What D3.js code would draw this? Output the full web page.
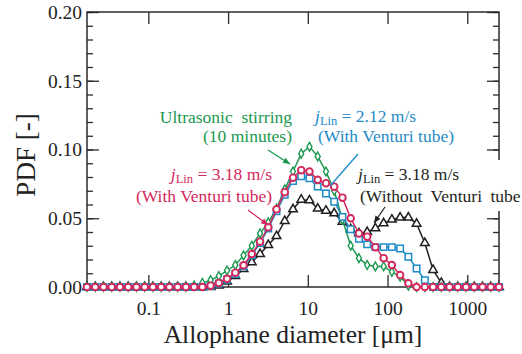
<!DOCTYPE html>
<html>
<head>
<meta charset="utf-8">
<script src="https://d3js.org/d3.v7.min.js"></script>
<style>
	html, body { margin: 0; padding: 0; background: #fff; }
	svg { display: block; }
	text { font-family: "Liberation Serif", "Times New Roman", serif; }
</style>
</head>
<body>
<svg id="chart" width="522" height="354"></svg>
<script>
// particle size bins [um], 51 channels
var sizes = [0.017, 0.02157, 0.02736, 0.03472, 0.04405, 0.05589, 0.0709, 0.08995, 0.1141, 0.1448,
	0.1836, 0.233, 0.2956, 0.375, 0.4758, 0.6036, 0.7657, 0.9714, 1.232, 1.563,
	1.983, 2.516, 3.192, 4.05, 5.138, 6.519, 8.27, 10.49, 13.31, 16.89,
	21.43, 27.19, 34.49, 43.75, 55.51, 70.42, 89.35, 113.3, 143.8, 182.4,
	231.4, 293.6, 372.5, 472.6, 599.6, 760.7, 965, 1224, 1553, 1971, 2500];

// PDF values, one per bin
var ultrasonic = [0, 0, 0, 0, 0, 0, 0, 0, 0, 0,
	0, 0, 0, 0.001, 0.003, 0.005, 0.008, 0.012, 0.016, 0.023,
	0.030, 0.039, 0.047, 0.057, 0.071, 0.084, 0.097, 0.102, 0.095, 0.084,
	0.070, 0.049, 0.030, 0.021, 0.016, 0.015, 0.015, 0.011, 0.0075, 0.001,
	0, 0, 0, 0, 0, 0, 0, 0, 0, 0, 0];
var venturi212 = [0, 0, 0, 0, 0, 0, 0, 0, 0, 0,
	0, 0, 0, 0, 0, 0.0008, 0.0025, 0.0055, 0.0095, 0.015,
	0.023, 0.032, 0.0425, 0.055, 0.067, 0.077, 0.0805, 0.079, 0.073, 0.068,
	0.062, 0.051, 0.042, 0.035, 0.031, 0.029, 0.029, 0.029, 0.028, 0.022,
	0.0135, 0.005, 0, 0, 0, 0, 0, 0, 0, 0, 0];
var venturi318 = [0, 0, 0, 0, 0, 0, 0, 0, 0, 0,
	0, 0, 0, 0, 0, 0.001, 0.003, 0.006, 0.0104, 0.0158,
	0.024, 0.033, 0.0434, 0.0565, 0.069, 0.0795, 0.085, 0.084, 0.078, 0.0755,
	0.073, 0.065, 0.050, 0.039, 0.0366, 0.029, 0.021, 0.016, 0.0087, 0.0027,
	0, 0, 0, 0, 0, 0, 0, 0, 0, 0, 0];
var noVenturi318 = [0, 0, 0, 0, 0, 0, 0, 0, 0, 0,
	0, 0, 0, 0, 0, 0, 0.001, 0.004, 0.008, 0.013,
	0.018, 0.024, 0.0305, 0.037, 0.048, 0.0565, 0.0635, 0.063, 0.057, 0.0555,
	0.0536, 0.0475, 0.042, 0.039, 0.040, 0.0427, 0.0463, 0.049, 0.0505, 0.0505,
	0.046, 0.032, 0.0124, 0.003, 0, 0, 0, 0, 0, 0, 0];

var yTicks = [0, 0.05, 0.10, 0.15, 0.20];
var xTicks = [0.1, 1, 10, 100, 1000];
var xTickLabels = ["0.1", "1", "10", "100", "1000"];

var FRAME = "#2b2b2b";
var FONT = "'Liberation Serif', 'Times New Roman', serif";
var NOTE_SIZE = "17.5px";

var svg = d3.select("#chart");
var plot = {left: 87, top: 12, right: 499, bottom: 287};

var x = d3.scaleLog()
	.domain([sizes[0], sizes[sizes.length - 1]])
	.range([plot.left, plot.right]);
var y = d3.scaleLinear()
	.domain([0, 0.2])
	.range([plot.bottom, plot.top]);

// drawing order: black first, red on top
var series = [
	{values: noVenturi318, color: "#231f20", shape: "triangle"},
	{values: ultrasonic, color: "#1b9850", shape: "diamond"},
	{values: venturi212, color: "#1e8bc6", shape: "square"},
	{values: venturi318, color: "#d4285c", shape: "circle"}
];

// tidy up an axis group: plain ticks, serif labels, no domain path
var styleAxis = function (g, fontSize) {
	g.select(".domain").remove();
	g.attr("font-family", FONT).attr("font-size", fontSize);
	g.selectAll(".tick line").attr("stroke", FRAME).attr("stroke-width", 1.3);
	g.selectAll(".tick text").attr("fill", "#222");
};

// minor y ticks every 0.01, left and right
var minorY = d3.range(0, 0.2001, 0.01);
svg.append("g")
	.attr("transform", "translate(" + plot.left + ",0)")
	.call(d3.axisLeft(y).tickValues(minorY).tickSize(-6).tickFormat(""))
	.call(styleAxis, 19.5);
svg.append("g")
	.attr("transform", "translate(" + plot.right + ",0)")
	.call(d3.axisRight(y).tickValues(minorY).tickSize(-6).tickFormat(""))
	.call(styleAxis, 19.5);

// major y ticks
svg.append("g")
	.attr("transform", "translate(" + plot.left + ",0)")
	.call(d3.axisLeft(y).tickValues(yTicks).tickSize(-12).tickPadding(5)
		.tickFormat(d3.format(".2f")))
	.call(styleAxis, 19.5);
svg.append("g")
	.attr("transform", "translate(" + plot.right + ",0)")
	.call(d3.axisRight(y).tickValues(yTicks).tickSize(-12).tickFormat(""))
	.call(styleAxis, 19.5);

// decade ticks on x, bottom and top
svg.append("g")
	.attr("transform", "translate(0," + plot.bottom + ")")
	.call(d3.axisBottom(x).tickValues(xTicks).tickSize(-12).tickPadding(14)
		.tickFormat(function (d, i) { return xTickLabels[i]; }))
	.call(styleAxis, 19.5);
svg.append("g")
	.attr("transform", "translate(0," + plot.top + ")")
	.call(d3.axisTop(x).tickValues(xTicks).tickSize(-12).tickFormat(""))
	.call(styleAxis, 19.5);

// frame
svg.append("rect")
	.attr("x", plot.left)
	.attr("y", plot.top)
	.attr("width", plot.right - plot.left)
	.attr("height", plot.bottom - plot.top)
	.attr("fill", "none")
	.attr("stroke", FRAME)
	.attr("stroke-width", 1.5);

// axis titles
svg.append("text")
	.attr("x", (plot.left + plot.right) / 2)
	.attr("y", 343)
	.attr("text-anchor", "middle")
	.attr("font-size", "25.5px")
	.attr("fill", "#222")
	.text("Allophane diameter [\u03bcm]");

svg.append("text")
	.attr("transform", "translate(35,155) rotate(-90)")
	.attr("text-anchor", "middle")
	.attr("font-size", "27px")
	.attr("fill", "#222")
	.text("PDF [-]");

// series lines and markers
var line = d3.line()
	.x(function (d, i) { return x(sizes[i]); })
	.y(function (d) { return y(d); });

var symbolPath = {
	triangle: d3.symbol().type(d3.symbolTriangle).size(32)(),
	square: d3.symbol().type(d3.symbolSquare).size(42)(),
	diamond: d3.symbol().type(d3.symbolDiamond).size(22)()
};

series.forEach(function (s) {
	var g = svg.append("g");

	g.append("path")
		.attr("d", line(s.values))
		.attr("fill", "none")
		.attr("stroke", s.color)
		.attr("stroke-width", 1.5);

	var pts = g.selectAll(".pt")
		.data(s.values)
		.enter();

	if (s.shape === "circle") {
		pts.append("circle")
			.attr("cx", function (d, i) { return x(sizes[i]); })
			.attr("cy", function (d) { return y(d); })
			.attr("r", 3.3)
			.attr("fill", "#fff")
			.attr("stroke", s.color)
			.attr("stroke-width", 1.9);
	} else {
		pts.append("path")
			.attr("d", symbolPath[s.shape])
			.attr("transform", function (d, i) {
				return "translate(" + x(sizes[i]) + "," + y(d) + ")";
			})
			.attr("fill", "#fff")
			.attr("stroke", s.color)
			.attr("stroke-width", s.shape === "diamond" ? 1.4 : 1.5);
	}
});

// annotation helpers
var arrow = function (x1, y1, x2, y2, color, head) {
	svg.append("line")
		.attr("x1", x1).attr("y1", y1)
		.attr("x2", x2).attr("y2", y2)
		.attr("stroke", color)
		.attr("stroke-width", 1.3);
	if (!head) {
		return;
	}
	var a = Math.atan2(y2 - y1, x2 - x1);
	var len = 7, half = 3;
	var bx = x2 - len * Math.cos(a), by = y2 - len * Math.sin(a);
	var pts = [
		[x2, y2],
		[bx + half * Math.sin(a), by - half * Math.cos(a)],
		[bx - half * Math.sin(a), by + half * Math.cos(a)]
	];
	svg.append("path")
		.attr("d", "M" + pts.join("L") + "Z")
		.attr("fill", color);
};

// "jLin = value" label with italic j and roman subscript
var jLabel = function (xPos, yPos, anchor, value, color) {
	var t = svg.append("text")
		.attr("x", xPos)
		.attr("y", yPos)
		.attr("text-anchor", anchor)
		.attr("font-size", NOTE_SIZE)
		.attr("fill", color);
	t.append("tspan").attr("font-style", "italic").text("j");
	t.append("tspan").attr("font-size", "12.5px").attr("dy", 3).text("Lin");
	t.append("tspan").attr("dy", -3).text(" = " + value);
	return t;
};

var textLine = function (xPos, yPos, anchor, str, color, spacing) {
	return svg.append("text")
		.attr("x", xPos)
		.attr("y", yPos)
		.attr("text-anchor", anchor)
		.attr("font-size", NOTE_SIZE)
		.attr("fill", color)
		.attr("word-spacing", spacing || 0)
		.style("white-space", "pre")
		.text(str);
};

// ultrasonic (green)
textLine(292, 123, "end", "Ultrasonic  stirring", "#1b9850");
textLine(292, 142, "end", "(10 minutes)", "#1b9850");
arrow(268, 150, 290, 164, "#1b9850", true);

// 3.18 m/s with venturi (red)
jLabel(272, 180, "end", "3.18 m/s", "#d4285c");
textLine(272, 201.5, "end", "(With Venturi tube)", "#d4285c");
arrow(248, 210, 268, 225, "#d4285c", true);

// 2.12 m/s with venturi (blue)
jLabel(315, 122, "start", "2.12 m/s", "#1e8bc6");
textLine(318, 142, "start", "(With Venturi tube)", "#1e8bc6");
arrow(358, 154, 330, 186, "#1e8bc6", false);

// 3.18 m/s without venturi (black), white box over the frame
svg.append("rect")
	.attr("x", 357)
	.attr("y", 160)
	.attr("width", 165)
	.attr("height", 51)
	.attr("fill", "#fff");
jLabel(358, 180, "start", "3.18 m/s", "#231f20");
textLine(360, 201.5, "start", "(Without Venturi tube", "#231f20", 4);
arrow(385, 207, 374, 223, "#231f20", true);
</script>
</body>
</html>
